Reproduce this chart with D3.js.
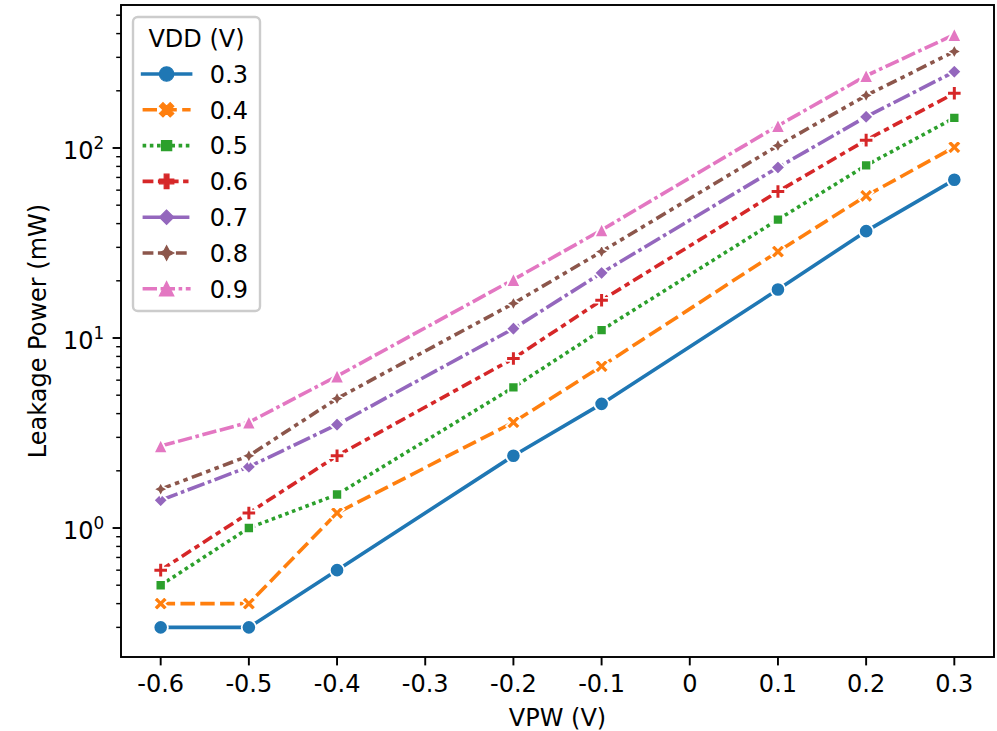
<!DOCTYPE html>
<html>
<head>
<meta charset="utf-8">
<script src="https://cdn.jsdelivr.net/npm/d3@7"></script>
<style>
  html, body { margin: 0; padding: 0; background: #fff; }
  svg { display: block; font-family: "DejaVu Sans", sans-serif; }
</style>
</head>
<body>
<svg id="chart" width="997" height="731"></svg>
<script>
// ---- data ----
const vpw = [-0.6, -0.5, -0.4, -0.2, -0.1, 0.1, 0.2, 0.3];
const vddLabels = ["0.3", "0.4", "0.5", "0.6", "0.7", "0.8", "0.9"];
const leak03 = [0.3, 0.3, 0.6, 2.4, 4.5, 18, 36.5, 68];
const leak04 = [0.4, 0.4, 1.2, 3.6, 7.1, 28.5, 56, 101];
const leak05 = [0.5, 1.0, 1.5, 5.5, 11, 42, 81, 144];
const leak06 = [0.6, 1.2, 2.4, 7.8, 15.8, 59, 110, 194];
const leak07 = [1.4, 2.1, 3.5, 11.2, 22, 79, 146, 252];
const leak08 = [1.6, 2.4, 4.8, 15.2, 28.5, 103, 189, 322];
const leak09 = [2.7, 3.6, 6.3, 20.3, 37, 131, 240, 395];
const seriesValues = [leak03, leak04, leak05, leak06, leak07, leak08, leak09];
const xTicks = [-0.6, -0.5, -0.4, -0.3, -0.2, -0.1, 0, 0.1, 0.2, 0.3];
const xTickLabels = ["-0.6", "-0.5", "-0.4", "-0.3", "-0.2", "-0.1", "0", "0.1", "0.2", "0.3"];
const yMajorExps = [0, 1, 2];
const xLabel = "VPW (V)";
const yLabel = "Leakage Power (mW)";
const legendTitle = "VDD (V)";

// ---- styles ----
const S = 2.4; // px per pt
const colors = ["#1f77b4", "#ff7f0e", "#2ca02c", "#d62728", "#9467bd", "#8c564b", "#e377c2"];
const lw = 1.5 * S;
const dashUnits = [null, [4, 1.5], [1, 1], [3, 1.25, 1.5, 1.25], [5, 1, 1, 1],
  [3, 1.25, 1.25, 1.25, 1.25, 1.25], [4, 1, 4, 1, 1, 1]];
const markerTypes = ["o", "X", "sq", "P", "D", "star", "^"];
const ms = 6 * S;
const mew = 0.75 * S;
const fs = 10 * S;

const svg = d3.select("#chart");
const L = 121, R = 994, T = 5, B = 657;

// scales with 5% margins like matplotlib
const xExt = d3.extent(vpw);
const xPad = (xExt[1] - xExt[0]) * 0.05;
const x = d3.scaleLinear().domain([xExt[0] - xPad, xExt[1] + xPad]).range([L, R]);
const allV = seriesValues.flat();
const lmin = Math.log10(d3.min(allV)), lmax = Math.log10(d3.max(allV));
const lpad = (lmax - lmin) * 0.05;
const y = d3.scaleLog().domain([Math.pow(10, lmin - lpad), Math.pow(10, lmax + lpad)]).range([B, T]);

// marker paths
function poly(pts) { return "M" + pts.map(p => p[0].toFixed(2) + "," + p[1].toFixed(2)).join("L") + "Z"; }
function markerPath(type, size) {
  const r = size / 2;
  if (type === "o") {
    return `M${r},0A${r},${r} 0 1,1 ${-r},0A${r},${r} 0 1,1 ${r},0Z`;
  }
  if (type === "X") {
    const p = [[-1,-2],[0,-1],[1,-2],[2,-1],[1,0],[2,1],[1,2],[0,1],[-1,2],[-2,1],[-1,0],[-2,-1]];
    return poly(p.map(q => [q[0] / 4 * size, q[1] / 4 * size]));
  }
  if (type === "P") {
    const p = [[-1,-3],[1,-3],[1,-1],[3,-1],[3,1],[1,1],[1,3],[-1,3],[-1,1],[-3,1],[-3,-1],[-1,-1]];
    return poly(p.map(q => [q[0] / 6 * size, q[1] / 6 * size]));
  }
  if (type === "sq") {
    const pts = [];
    for (let k = 0; k < 4; k++) {
      const a = Math.PI / 2 + k * Math.PI / 2 + Math.PI / 4;
      pts.push([r * Math.cos(a), -r * Math.sin(a)]);
    }
    return poly(pts);
  }
  if (type === "D") {
    const pts = [];
    for (let k = 0; k < 4; k++) {
      const a = Math.PI / 2 + k * Math.PI / 2;
      pts.push([r * Math.cos(a), -r * Math.sin(a)]);
    }
    return poly(pts);
  }
  if (type === "star") {
    const pts = [];
    for (let k = 0; k < 8; k++) {
      const a = Math.PI / 2 + k * Math.PI / 4;
      const rr = k % 2 === 0 ? r : r * 0.5;
      pts.push([rr * Math.cos(a), -rr * Math.sin(a)]);
    }
    return poly(pts);
  }
  if (type === "^") {
    return poly([[0, -r], [-r, r], [r, r]]);
  }
}

// ---- background ----
svg.append("rect").attr("x", 0).attr("y", 0).attr("width", 997).attr("height", 731).attr("fill", "#fff");

// ---- y ticks (log) ----
const gy = svg.append("g");
const [d0, d1] = y.domain();
for (let e = Math.floor(Math.log10(d0)); e <= Math.ceil(Math.log10(d1)); e++) {
  for (let m = 1; m <= 9; m++) {
    const v = m * Math.pow(10, e);
    if (v < d0 || v > d1) continue;
    const yy = y(v);
    const major = m === 1;
    gy.append("line").attr("x1", L).attr("x2", L - (major ? 3.5 * S : 2 * S))
      .attr("y1", yy).attr("y2", yy).attr("stroke", "#000")
      .attr("stroke-width", major ? 0.8 * S : 0.6 * S);
  }
}
yMajorExps.forEach(e => {
  const yy = y(Math.pow(10, e));
  const t = gy.append("text").attr("x", L - 7 * S).attr("y", yy + 11)
    .attr("text-anchor", "end").attr("font-size", fs).attr("fill", "#000");
  t.append("tspan").text("10");
  t.append("tspan").attr("font-size", fs * 0.7).attr("dy", -fs * 0.42).text(String(e));
});

// ---- x ticks ----
const gx = svg.append("g");
xTicks.forEach((v, i) => {
  const xx = x(v);
  gx.append("line").attr("x1", xx).attr("x2", xx).attr("y1", B).attr("y2", B + 3.5 * S)
    .attr("stroke", "#000").attr("stroke-width", 0.8 * S);
  gx.append("text").attr("x", xx).attr("y", B + 7 * S + 18.5).attr("text-anchor", "middle")
    .attr("font-size", fs).attr("fill", "#000").text(xTickLabels[i]);
});

// axis labels
svg.append("text").attr("x", (L + R) / 2).attr("y", 726).attr("text-anchor", "middle")
  .attr("font-size", fs).attr("fill", "#000").text(xLabel);
svg.append("text").attr("transform", `translate(46,${(T + B) / 2}) rotate(-90)`)
  .attr("text-anchor", "middle").attr("font-size", fs).attr("fill", "#000").text(yLabel);

// ---- series ----
const plot = svg.append("g");
const lineGen = d3.line().x(d => x(d[0])).y(d => y(d[1]));
seriesValues.forEach((vals, si) => {
  const g = plot.append("g");
  const pts = vpw.map((v, i) => [v, vals[i]]);
  const p = g.append("path").attr("d", lineGen(pts)).attr("fill", "none")
    .attr("stroke", colors[si]).attr("stroke-width", lw).attr("stroke-linejoin", "round");
  if (dashUnits[si]) {
    p.attr("stroke-dasharray", dashUnits[si].map(u => u * lw).join(",")).attr("stroke-linecap", "butt");
  } else {
    p.attr("stroke-linecap", "square");
  }
  pts.forEach(d => {
    g.append("path").attr("d", markerPath(markerTypes[si], ms))
      .attr("transform", `translate(${x(d[0])},${y(d[1])})`)
      .attr("fill", colors[si]).attr("stroke", "#fff").attr("stroke-width", mew)
      .attr("stroke-linejoin", "miter");
  });
});

// ---- spines ----
svg.append("rect").attr("x", L).attr("y", T).attr("width", R - L).attr("height", B - T)
  .attr("fill", "none").attr("stroke", "#000").attr("stroke-width", 0.8 * S)
  .attr("stroke-linecap", "square");

// ---- legend ----
const lg = svg.append("g");
const lgX = L + 0.5 * fs, lgY = T + 0.5 * fs;
const lgW = 127, rowH = 35.8;
const lgH = 294;
lg.append("rect").attr("x", lgX).attr("y", lgY).attr("width", lgW).attr("height", lgH)
  .attr("rx", 0.2 * fs).attr("ry", 0.2 * fs)
  .attr("fill", "rgba(255,255,255,0.8)").attr("stroke", "#cccccc").attr("stroke-width", 1.0 * S);
lg.append("text").attr("x", lgX + lgW / 2).attr("y", 47).attr("text-anchor", "middle")
  .attr("font-size", fs).attr("fill", "#000").text(legendTitle);
const hx0 = lgX + 0.4 * fs, hx1 = hx0 + 2 * fs;
vddLabels.forEach((lab, si) => {
  const cy = 74 + si * rowH;
  const ln = lg.append("line").attr("x1", hx0).attr("x2", hx1).attr("y1", cy).attr("y2", cy)
    .attr("stroke", colors[si]).attr("stroke-width", lw);
  if (dashUnits[si]) ln.attr("stroke-dasharray", dashUnits[si].map(u => u * lw).join(","));
  else ln.attr("stroke-linecap", "square");
  lg.append("path").attr("d", markerPath(markerTypes[si], ms))
    .attr("transform", `translate(${(hx0 + hx1) / 2},${cy})`)
    .attr("fill", colors[si]).attr("stroke", colors[si]).attr("stroke-width", 1.2)
    .attr("stroke-linejoin", "miter");
  lg.append("text").attr("x", hx1 + 0.8 * fs).attr("y", cy + 8.8)
    .attr("font-size", fs).attr("fill", "#000").text(lab);
});
</script>
</body>
</html>
